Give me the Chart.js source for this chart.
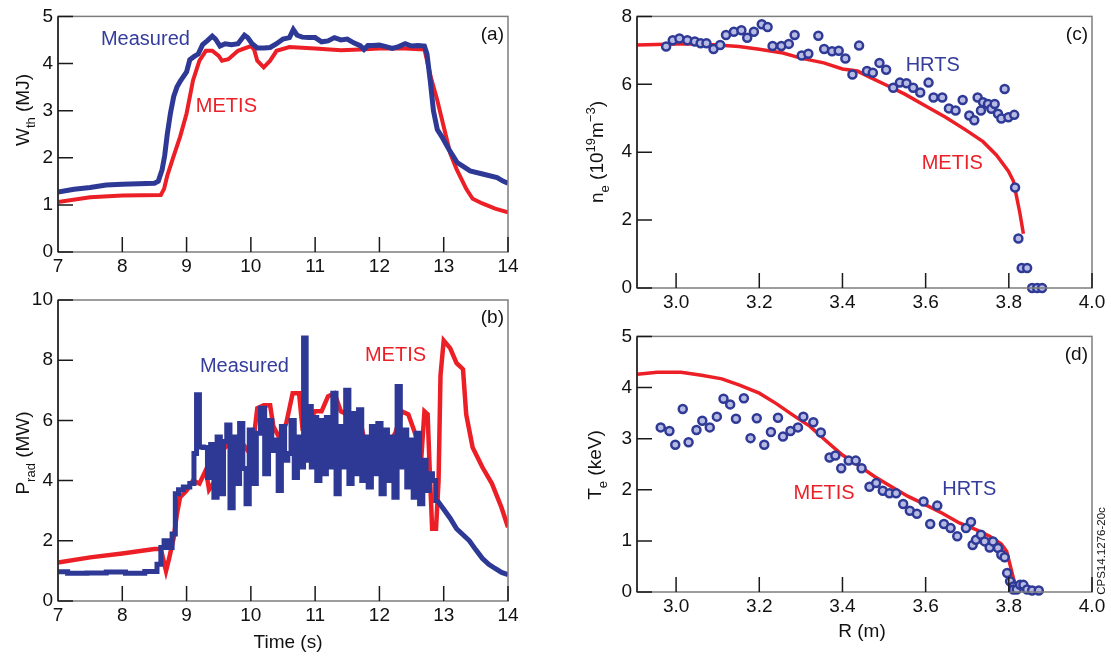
<!DOCTYPE html>
<html>
<head>
<meta charset="utf-8">
<script src="https://cdn.jsdelivr.net/npm/chart.js@4/dist/chart.umd.min.js"></script>
<style>
  body { margin: 0; background: #fff; }
  #wrap { position: relative; width: 1111px; height: 658px; overflow: hidden; }
  canvas { position: absolute; }
</style>
</head>
<body>
<div id="wrap">
  <canvas id="panelA" width="540" height="290" style="left:0;top:0"></canvas>
  <canvas id="panelB" width="540" height="378" style="left:0;top:280px"></canvas>
  <canvas id="panelC" width="551" height="320" style="left:560px;top:0"></canvas>
  <canvas id="panelD" width="551" height="338" style="left:560px;top:320px"></canvas>
</div>
<script>
// Tick labels
const timeTicks = [7, 8, 9, 10, 11, 12, 13, 14];
const wthTicks = [0, 1, 2, 3, 4, 5];
const pradTicks = [0, 2, 4, 6, 8, 10];
const radiusTicks = [3.0, 3.2, 3.4, 3.6, 3.8, 4.0];
const neTicks = [0, 2, 4, 6, 8];
const teTicks = [0, 1, 2, 3, 4, 5];

// (a) stored energy
const wthMeasTime = [7.0, 7.25, 7.5, 7.75, 8.0, 8.25, 8.5, 8.56, 8.62, 8.66, 8.7, 8.75, 8.8, 8.85, 8.9, 8.95, 9.0,
  9.05, 9.12, 9.18, 9.25, 9.32, 9.4, 9.45, 9.52, 9.6, 9.7, 9.8, 9.9, 9.95, 10.02, 10.1, 10.2, 10.3, 10.4, 10.5, 10.6,
  10.66, 10.72, 10.8, 10.9, 11.0, 11.1, 11.2, 11.3, 11.4, 11.5, 11.6, 11.7, 11.76, 11.82, 11.9, 12.0, 12.1, 12.2, 12.3, 12.4,
  12.5, 12.6, 12.7, 12.74, 12.79, 12.84, 12.9, 12.97, 13.08, 13.21, 13.41, 13.62, 13.83, 13.93, 14.0];
const wthMeasured = [1.27, 1.33, 1.37, 1.42, 1.44, 1.45, 1.46, 1.5, 1.75, 2.05, 2.5, 2.95, 3.3, 3.5, 3.62, 3.72, 3.82,
  4.08, 4.15, 4.2, 4.4, 4.48, 4.58, 4.52, 4.37, 4.42, 4.4, 4.42, 4.6, 4.55, 4.42, 4.33, 4.33, 4.34, 4.42, 4.52, 4.55,
  4.72, 4.6, 4.56, 4.55, 4.55, 4.46, 4.48, 4.55, 4.5, 4.52, 4.44, 4.38, 4.3, 4.38, 4.38, 4.39, 4.36, 4.32, 4.36, 4.42,
  4.37, 4.38, 4.37, 4.2, 3.64, 3.0, 2.6, 2.45, 2.18, 1.9, 1.72, 1.65, 1.58, 1.5, 1.46];
const wthMetisTime = [7.0, 7.5, 8.0, 8.6, 8.65, 8.7, 8.8, 8.9, 9.0, 9.1, 9.2, 9.3, 9.4, 9.5, 9.55, 9.65, 9.8, 10.0, 10.05,
  10.1, 10.2, 10.3, 10.4, 10.6, 11.0, 11.4, 11.7, 12.0, 12.4, 12.7, 12.8, 12.9, 13.0, 13.1, 13.2, 13.35, 13.45, 13.6, 13.8, 14.0];
const wthMetis = [1.06, 1.16, 1.2, 1.21, 1.34, 1.62, 2.04, 2.45, 2.94, 3.64, 4.06, 4.27, 4.27, 4.16, 4.06, 4.09, 4.27, 4.37, 4.3,
  4.06, 3.92, 4.06, 4.27, 4.35, 4.32, 4.28, 4.3, 4.32, 4.32, 4.3, 3.71, 3.22, 2.66, 2.1, 1.76, 1.34, 1.13, 1.03, 0.92, 0.84];

// (b) radiated power
const pradMeasTime = [7.0, 7.3, 7.6, 7.9, 8.2, 8.5, 8.58, 8.62, 8.68, 8.75, 8.8, 8.85, 8.9, 9.0, 9.1, 9.13, 9.18, 9.22, 9.3, 9.35,
  9.4, 9.45, 9.5, 9.55, 9.6, 9.65, 9.7, 9.75, 9.8, 9.85, 9.9, 9.95, 10.0, 10.05, 10.12, 10.18, 10.25, 10.3, 10.35, 10.4,
  10.45, 10.5, 10.55, 10.6, 10.65, 10.7, 10.75, 10.8, 10.84, 10.88, 10.92, 10.96, 11.0, 11.05, 11.1, 11.15, 11.2, 11.25, 11.3, 11.35,
  11.4, 11.45, 11.5, 11.55, 11.6, 11.65, 11.7, 11.75, 11.8, 11.85, 11.9, 11.95, 12.0, 12.05, 12.1, 12.15, 12.2, 12.25, 12.3, 12.35,
  12.4, 12.45, 12.5, 12.55, 12.6, 12.65, 12.7, 12.75, 12.8, 12.85, 12.9, 13.0, 13.1, 13.2, 13.3, 13.4, 13.5, 13.6, 13.7, 13.8,
  13.9, 14.0];
const pradMeasured = [0.97, 0.92, 0.93, 0.96, 0.92, 0.98, 1.22, 1.78, 2.0, 1.78, 2.23, 3.56, 3.7, 3.79, 3.9, 4.9, 6.85, 5.12, 5.1, 4.1,
  5.2, 3.45, 5.45, 3.56, 5.3, 5.85, 3.1, 5.45, 3.9, 5.9, 4.4, 3.23, 5.68, 3.9, 5.57, 6.4, 4.23, 6.0, 5.0, 5.35,
  3.67, 5.8, 4.68, 4.9, 6.0, 4.1, 5.45, 4.45, 8.74, 4.68, 6.46, 4.45, 6.1, 4.0, 6.0, 4.23, 6.1, 4.45, 6.9, 3.56,
  5.8, 4.45, 7.0, 3.9, 6.23, 4.23, 6.35, 4.0, 5.45, 3.79, 5.8, 4.23, 5.9, 3.56, 5.68, 4.0, 5.45, 3.45, 7.13, 4.45,
  5.68, 3.79, 5.35, 3.45, 5.57, 3.23, 4.68, 3.67, 4.23, 4.0, 3.34, 3.05, 2.75, 2.4, 2.2, 2.0, 1.7, 1.42, 1.22, 1.08,
  0.95, 0.88];
const pradMetisTime = [7.0, 7.5, 8.0, 8.5, 8.6, 8.63, 8.68, 8.72, 8.8, 8.85, 8.9, 9.0, 9.1, 9.2, 9.3, 9.35, 9.45, 9.55, 9.65, 9.75,
  9.85, 9.95, 10.05, 10.1, 10.2, 10.3, 10.35, 10.45, 10.55, 10.6, 10.65, 10.75, 10.8, 10.9, 11.0, 11.1, 11.2, 11.3, 11.4, 11.5,
  11.6, 11.7, 11.8, 11.85, 11.95, 12.05, 12.15, 12.25, 12.35, 12.45, 12.55, 12.6, 12.65, 12.7, 12.75, 12.78, 12.82, 12.88, 12.92, 12.95,
  13.0, 13.1, 13.2, 13.3, 13.35, 13.45, 13.6, 13.75, 13.9, 14.0];
const pradMetis = [1.28, 1.45, 1.58, 1.73, 1.73, 1.45, 1.0, 1.34, 2.1, 2.9, 3.45, 3.67, 4.0, 3.9, 4.35, 3.7, 4.0, 5.0, 5.2, 5.3,
  5.3, 5.0, 5.5, 6.4, 6.5, 6.5, 5.8, 5.4, 5.9, 6.4, 6.9, 6.9, 5.8, 6.0, 6.3, 6.3, 6.8, 6.9, 6.3, 6.2,
  6.2, 6.0, 5.0, 4.9, 5.6, 5.6, 5.2, 5.6, 6.3, 6.2, 5.6, 5.2, 4.7, 6.3, 6.2, 4.5, 2.4, 2.4, 4.0, 7.5,
  8.65, 8.4, 7.9, 7.7, 6.2, 5.1, 4.45, 3.9, 3.1, 2.45];
// the measured trace is a sampled (stepped) signal up to this time, a smooth decay after it
const pradStepEnd = 12.9;

// (c) density profile
const neHrtsR = [2.976, 2.992, 3.008, 3.027, 3.045, 3.059, 3.073, 3.09, 3.106, 3.12, 3.139, 3.157, 3.171, 3.187, 3.206, 3.22,
  3.232, 3.253, 3.271, 3.285, 3.302, 3.318, 3.342, 3.356, 3.375, 3.391, 3.407, 3.424, 3.44, 3.459, 3.473, 3.489, 3.505,
  3.522, 3.538, 3.554, 3.57, 3.587, 3.607, 3.619, 3.64, 3.656, 3.672, 3.689, 3.705, 3.717, 3.725, 3.733, 3.738, 3.75,
  3.758, 3.766, 3.774, 3.782, 3.79, 3.799, 3.813, 3.815, 3.823, 3.831, 3.844, 3.856, 3.868, 3.88];
const neHrts = [7.11, 7.3, 7.35, 7.3, 7.26, 7.21, 7.21, 7.04, 7.16, 7.45, 7.55, 7.59, 7.37, 7.55, 7.77, 7.69,
  7.13, 7.13, 7.19, 7.45, 6.85, 6.9, 7.43, 7.04, 6.97, 6.99, 6.76, 6.29, 7.14, 6.39, 6.34, 6.63, 6.43,
  5.9, 6.05, 6.03, 5.9, 5.76, 6.05, 5.61, 5.61, 5.29, 5.23, 5.54, 5.08, 4.94, 5.61, 5.23, 5.47, 5.42,
  5.28, 5.42, 5.13, 4.99, 5.86, 5.03, 5.1, 2.96, 1.46, 0.59, 0.59, 0.0, 0.0, 0.0];
const neMetisR = [2.906, 3.0, 3.053, 3.1, 3.151, 3.2, 3.257, 3.3, 3.355, 3.4, 3.436, 3.469, 3.501, 3.55, 3.599, 3.648,
  3.697, 3.738, 3.77, 3.799, 3.811, 3.819, 3.827, 3.835];
const neMetis = [7.16, 7.19, 7.19, 7.16, 7.11, 7.03, 6.92, 6.77, 6.63, 6.45, 6.39, 6.19, 6.0, 5.71, 5.37, 5.03,
  4.65, 4.31, 3.92, 3.44, 3.15, 2.67, 2.18, 1.6];

// (d) temperature profile
const teHrtsR = [2.963, 2.984, 2.998, 3.016, 3.03, 3.049, 3.063, 3.081, 3.098, 3.114, 3.13, 3.144, 3.163, 3.179, 3.194, 3.212,
  3.228, 3.245, 3.257, 3.275, 3.293, 3.306, 3.33, 3.348, 3.369, 3.383, 3.397, 3.415, 3.432, 3.446, 3.465, 3.481, 3.497,
  3.513, 3.529, 3.546, 3.562, 3.579, 3.595, 3.611, 3.628, 3.644, 3.66, 3.676, 3.697, 3.709, 3.713, 3.721, 3.733, 3.742,
  3.754, 3.762, 3.774, 3.782, 3.79, 3.796, 3.803, 3.811, 3.811, 3.819, 3.827, 3.835, 3.844, 3.856, 3.872];
const teHrts = [3.22, 3.15, 2.88, 3.58, 2.93, 3.17, 3.35, 3.22, 3.43, 3.78, 3.67, 3.39, 3.79, 3.01, 3.4, 2.88,
  3.13, 3.41, 3.04, 3.15, 3.22, 3.43, 3.32, 3.12, 2.63, 2.67, 2.42, 2.57, 2.57, 2.42, 2.06, 2.13, 1.98,
  1.93, 1.93, 1.72, 1.59, 1.53, 1.77, 1.33, 1.69, 1.33, 1.25, 1.09, 1.25, 1.37, 0.92, 1.02, 1.12, 0.99,
  0.87, 0.99, 0.86, 0.73, 0.68, 0.37, 0.21, 0.11, 0.05, 0.05, 0.14, 0.14, 0.05, 0.03, 0.03];
const teMetisR = [2.906, 2.955, 3.012, 3.061, 3.11, 3.151, 3.2, 3.24, 3.281, 3.322, 3.363, 3.4, 3.436, 3.477, 3.518, 3.558,
  3.599, 3.64, 3.681, 3.721, 3.754, 3.782, 3.795, 3.803, 3.811, 3.819, 3.827];
const teMetis = [4.26, 4.3, 4.3, 4.24, 4.17, 4.05, 3.89, 3.69, 3.46, 3.24, 2.94, 2.68, 2.49, 2.26, 2.06, 1.87,
  1.71, 1.54, 1.35, 1.22, 1.09, 0.94, 0.79, 0.53, 0.27, 0.08, 0];

const FONT = '"Liberation Sans", Arial, Helvetica, sans-serif';
const BLUE = '#2e3996';
const RED = '#ec1f27';

function pts(xs, ys) {
  return xs.map((x, i) => ({ x: x, y: ys[i] }));
}

// text with sub/superscripts, centred on (x, y)
function drawRich(ctx, parts, x, y, size, rotate) {
  ctx.save();
  ctx.translate(x, y);
  if (rotate) ctx.rotate(-Math.PI / 2);
  const fontFor = p => ((p.sub || p.sup) ? Math.round(size * 0.68) : size) + 'px ' + FONT;
  let w = 0;
  parts.forEach(p => { ctx.font = fontFor(p); w += ctx.measureText(p.t).width; });
  let cx = -w / 2;
  ctx.textAlign = 'left';
  ctx.textBaseline = 'alphabetic';
  ctx.fillStyle = '#111';
  parts.forEach(p => {
    ctx.font = fontFor(p);
    const dy = p.sub ? size * 0.3 : (p.sup ? -size * 0.42 : 0);
    ctx.fillText(p.t, cx, size * 0.36 + dy);
    cx += ctx.measureText(p.t).width;
  });
  ctx.restore();
}

const framePlugin = {
  id: 'frame',
  afterDatasetsDraw(chart, args, opts) {
    const ctx = chart.ctx;
    const a = chart.chartArea;
    const xs = chart.scales.x, ys = chart.scales.y;
    ctx.save();
    ctx.lineWidth = 1.5;
    ctx.strokeStyle = '#7d7d7d';
    ctx.strokeRect(a.left, a.top, a.right - a.left, a.bottom - a.top);
    ctx.strokeStyle = '#1a1a1a';
    ctx.beginPath();
    ctx.moveTo(a.left, a.top);
    ctx.lineTo(a.left, a.bottom);
    xs.ticks.forEach(t => {
      const px = xs.getPixelForValue(t.value);
      ctx.moveTo(px, a.bottom);
      ctx.lineTo(px, a.bottom - 15);
    });
    ys.ticks.forEach(t => {
      const py = ys.getPixelForValue(t.value);
      ctx.moveTo(a.left, py);
      ctx.lineTo(a.left + 15, py);
    });
    ctx.stroke();

    ctx.fillStyle = '#111';
    ctx.font = '19px ' + FONT;
    ctx.textAlign = 'right';
    ctx.textBaseline = 'middle';
    ctx.fillText(opts.panel, a.right - 4, a.top + 18);

    (opts.notes || []).forEach(n => {
      ctx.font = '20px ' + FONT;
      ctx.fillStyle = n.color;
      ctx.textAlign = 'center';
      ctx.fillText(n.text, xs.getPixelForValue(n.x), ys.getPixelForValue(n.y));
    });

    if (opts.yTitle) drawRich(ctx, opts.yTitle.parts, opts.yTitle.x, opts.yTitle.y, 19, true);
    if (opts.xTitle) drawRich(ctx, opts.xTitle.parts, opts.xTitle.x, opts.xTitle.y, 19, false);
    if (opts.stamp) drawRich(ctx, [{ t: opts.stamp.text }], opts.stamp.x, opts.stamp.y, 11.5, true);
    ctx.restore();
  }
};

function makePanel(id, cfg) {
  const lineSet = s => ({
    data: s.data, borderColor: s.color, borderWidth: s.width, pointRadius: 0,
    tension: 0, fill: false, showLine: true, stepped: s.stepped || false
  });
  const dotSet = s => ({
    data: s.data, showLine: false, pointRadius: 4, pointBorderWidth: 2.5,
    pointBorderColor: '#2f3a96', pointBackgroundColor: '#b7bbe4', clip: false
  });
  const datasets = cfg.series.map(s => s.dots ? dotSet(s) : lineSet(s));
  const tickFont = { family: FONT, size: 19 };
  return new Chart(document.getElementById(id), {
    type: 'scatter',
    data: { datasets: datasets },
    plugins: [framePlugin],
    options: {
      responsive: false,
      animation: false,
      devicePixelRatio: 1,
      layout: { padding: cfg.padding },
      plugins: {
        legend: { display: false },
        tooltip: { enabled: false },
        frame: cfg.frame
      },
      scales: {
        x: {
          type: 'linear',
          min: cfg.xMin, max: cfg.xMax,
          grid: { display: false, drawTicks: false },
          border: { display: false },
          afterBuildTicks: s => { s.ticks = cfg.xTicks.map(v => ({ value: v })); },
          afterFit: s => { s.height = cfg.xHeight; },
          ticks: { font: tickFont, color: '#111', padding: 3, maxRotation: 0, autoSkip: false,
            callback: v => cfg.xFmt ? v.toFixed(1) : String(v) }
        },
        y: {
          type: 'linear',
          min: cfg.yMin, max: cfg.yMax,
          grid: { display: false, drawTicks: false },
          border: { display: false },
          afterBuildTicks: s => { s.ticks = cfg.yTicks.map(v => ({ value: v })); },
          afterFit: s => { s.width = cfg.yWidth; },
          ticks: { font: tickFont, color: '#111', padding: 5, autoSkip: false, callback: v => String(v) }
        }
      }
    }
  });
}

makePanel('panelA', {
  padding: { top: 12, right: 32, left: 0, bottom: 0 },
  xMin: 7, xMax: 14, yMin: 0, yMax: 5,
  xTicks: timeTicks, yTicks: wthTicks, xHeight: 38, yWidth: 58,
  series: [
    { data: pts(wthMeasTime, wthMeasured), color: BLUE, width: 5 },
    { data: pts(wthMetisTime, wthMetis), color: RED, width: 4 }
  ],
  frame: {
    panel: '(a)',
    notes: [
      { text: 'Measured', color: '#343c9c', x: 8.36, y: 4.52 },
      { text: 'METIS', color: RED, x: 9.62, y: 3.08 }
    ],
    yTitle: { parts: [{ t: 'W' }, { t: 'th', sub: 1 }, { t: ' (MJ)' }], x: 22, y: 110 }
  }
});

const pradMeasPts = pts(pradMeasTime, pradMeasured);
makePanel('panelB', {
  padding: { top: 20, right: 32, left: 0, bottom: 0 },
  xMin: 7, xMax: 14, yMin: 0, yMax: 10,
  xTicks: timeTicks, yTicks: pradTicks, xHeight: 57, yWidth: 58,
  series: [
    { data: pradMeasPts.filter(p => p.x <= pradStepEnd), color: BLUE, width: 5, stepped: 'middle' },
    { data: pradMeasPts.filter(p => p.x >= pradStepEnd), color: BLUE, width: 5 },
    { data: pts(pradMetisTime, pradMetis), color: RED, width: 4.5 }
  ],
  frame: {
    panel: '(b)',
    notes: [
      { text: 'Measured', color: '#343c9c', x: 9.9, y: 7.78 },
      { text: 'METIS', color: RED, x: 12.25, y: 8.15 }
    ],
    yTitle: { parts: [{ t: 'P' }, { t: 'rad', sub: 1 }, { t: ' (MW)' }], x: 22, y: 173 },
    xTitle: { parts: [{ t: 'Time (s)' }], x: 288, y: 361 }
  }
});

makePanel('panelC', {
  padding: { top: 12, right: 19, left: 0, bottom: 0 },
  xMin: 2.906, xMax: 4.0, yMin: 0, yMax: 8,
  xTicks: radiusTicks, yTicks: neTicks, xHeight: 32, yWidth: 77, xFmt: true,
  series: [
    { data: pts(neHrtsR, neHrts), dots: true },
    { data: pts(neMetisR, neMetis), color: RED, width: 3.5 }
  ],
  frame: {
    panel: '(c)',
    notes: [
      { text: 'HRTS', color: '#343c9c', x: 3.617, y: 6.56 },
      { text: 'METIS', color: RED, x: 3.664, y: 3.66 }
    ],
    yTitle: { parts: [{ t: 'n' }, { t: 'e', sub: 1 }, { t: ' (10' }, { t: '19', sup: 1 }, { t: 'm' }, { t: '\u22123', sup: 1 }, { t: ')' }], x: 36, y: 152 }
  }
});

makePanel('panelD', {
  padding: { top: 15, right: 19, left: 0, bottom: 0 },
  xMin: 2.906, xMax: 4.0, yMin: 0, yMax: 5,
  xTicks: radiusTicks, yTicks: teTicks, xHeight: 66, yWidth: 77, xFmt: true,
  series: [
    { data: pts(teHrtsR, teHrts), dots: true },
    { data: pts(teMetisR, teMetis), color: RED, width: 3.5 }
  ],
  frame: {
    panel: '(d)',
    notes: [
      { text: 'METIS', color: RED, x: 3.356, y: 1.92 },
      { text: 'HRTS', color: '#343c9c', x: 3.705, y: 2.0 }
    ],
    yTitle: { parts: [{ t: 'T' }, { t: 'e', sub: 1 }, { t: ' (keV)' }], x: 34, y: 145 },
    xTitle: { parts: [{ t: 'R (m)' }], x: 302, y: 310 },
    stamp: { text: 'CPS14.1276-20c', x: 541, y: 231 }
  }
});
</script>
</body>
</html>
